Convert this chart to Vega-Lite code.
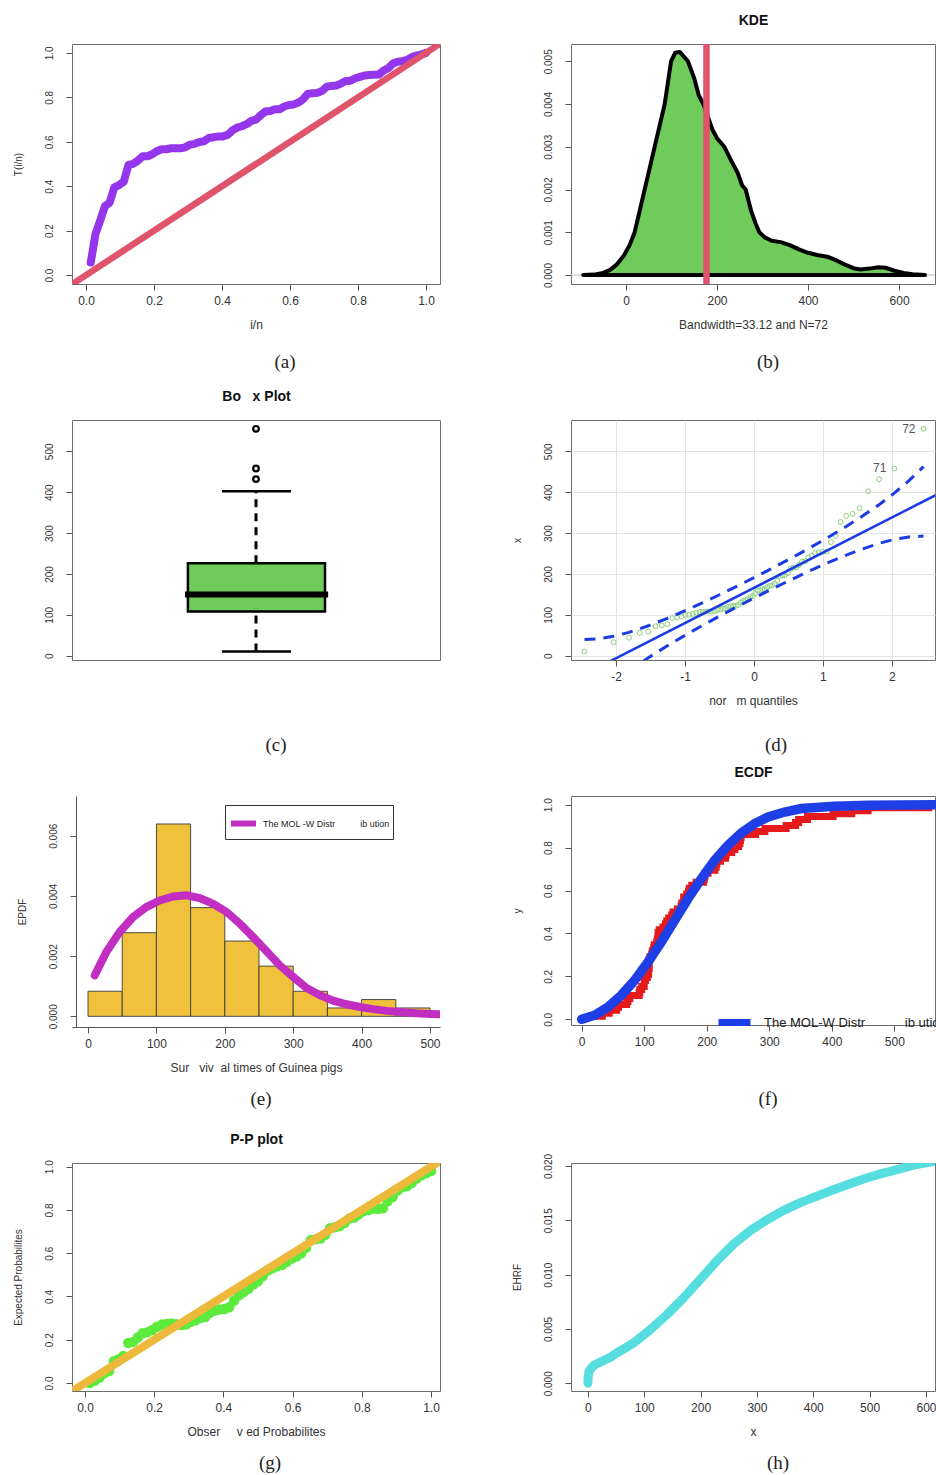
{
"$schema":"https://vega.github.io/schema/vega-lite/v6.json",
"background":"white",
"padding":{"left":12,"top":12,"right":0,"bottom":0},
"datasets":{
"obs":[
{"p":0.0139,"v":10,"z":-2.46,"t":0.0566,"e":0.0},
{"p":0.0278,"v":33,"z":-2.037,"t":0.1848,"e":0.01},
{"p":0.0417,"v":44,"z":-1.815,"t":0.2453,"e":0.025},
{"p":0.0556,"v":56,"z":-1.658,"t":0.3103,"e":0.045},
{"p":0.0694,"v":59,"z":-1.534,"t":0.3263,"e":0.055},
{"p":0.0833,"v":72,"z":-1.43,"t":0.3948,"e":0.10},
{"p":0.0972,"v":74,"z":-1.339,"t":0.4051,"e":0.11},
{"p":0.1111,"v":77,"z":-1.258,"t":0.4204,"e":0.125},
{"p":0.125,"v":92,"z":-1.184,"t":0.4958,"e":0.185},
{"p":0.1389,"v":93,"z":-1.117,"t":0.5008,"e":0.19},
{"p":0.1528,"v":96,"z":-1.055,"t":0.5154,"e":0.21},
{"p":0.1667,"v":100,"z":-0.995,"t":0.5346,"e":0.23},
{"p":0.1806,"v":100,"z":-0.94,"t":0.5346,"e":0.235},
{"p":0.1944,"v":102,"z":-0.887,"t":0.5438,"e":0.245},
{"p":0.2083,"v":105,"z":-0.837,"t":0.5575,"e":0.26},
{"p":0.2222,"v":107,"z":-0.788,"t":0.5664,"e":0.27},
{"p":0.2361,"v":107,"z":-0.742,"t":0.5664,"e":0.273},
{"p":0.25,"v":108,"z":-0.697,"t":0.5708,"e":0.275},
{"p":0.2639,"v":108,"z":-0.653,"t":0.5708,"e":0.272},
{"p":0.2778,"v":108,"z":-0.611,"t":0.5708,"e":0.268},
{"p":0.2917,"v":109,"z":-0.569,"t":0.5749,"e":0.27},
{"p":0.3056,"v":112,"z":-0.528,"t":0.5869,"e":0.283},
{"p":0.3194,"v":113,"z":-0.489,"t":0.5908,"e":0.29},
{"p":0.3333,"v":115,"z":-0.45,"t":0.5985,"e":0.3},
{"p":0.3472,"v":116,"z":-0.411,"t":0.6023,"e":0.305},
{"p":0.3611,"v":120,"z":-0.374,"t":0.617,"e":0.325},
{"p":0.375,"v":121,"z":-0.337,"t":0.6206,"e":0.335},
{"p":0.3889,"v":122,"z":-0.3,"t":0.6242,"e":0.34},
{"p":0.4028,"v":122,"z":-0.264,"t":0.6242,"e":0.342},
{"p":0.4167,"v":124,"z":-0.228,"t":0.6309,"e":0.35},
{"p":0.4306,"v":130,"z":-0.192,"t":0.6507,"e":0.38},
{"p":0.4444,"v":134,"z":-0.157,"t":0.6636,"e":0.405},
{"p":0.4583,"v":136,"z":-0.122,"t":0.6699,"e":0.42},
{"p":0.4722,"v":139,"z":-0.087,"t":0.6791,"e":0.435},
{"p":0.4861,"v":144,"z":-0.052,"t":0.694,"e":0.455},
{"p":0.5,"v":146,"z":-0.017,"t":0.6998,"e":0.47},
{"p":0.5139,"v":153,"z":0.017,"t":0.7196,"e":0.495},
{"p":0.5278,"v":159,"z":0.052,"t":0.7361,"e":0.52},
{"p":0.5417,"v":160,"z":0.087,"t":0.7388,"e":0.53},
{"p":0.5556,"v":163,"z":0.122,"t":0.7465,"e":0.54},
{"p":0.5694,"v":163,"z":0.157,"t":0.7465,"e":0.545},
{"p":0.5833,"v":168,"z":0.192,"t":0.7587,"e":0.56},
{"p":0.5972,"v":171,"z":0.228,"t":0.7658,"e":0.575},
{"p":0.6111,"v":172,"z":0.264,"t":0.7681,"e":0.585},
{"p":0.625,"v":176,"z":0.3,"t":0.7769,"e":0.6},
{"p":0.6389,"v":183,"z":0.337,"t":0.7917,"e":0.625},
{"p":0.6528,"v":195,"z":0.374,"t":0.8162,"e":0.66},
{"p":0.6667,"v":196,"z":0.411,"t":0.8182,"e":0.665},
{"p":0.6806,"v":197,"z":0.45,"t":0.8201,"e":0.668},
{"p":0.6944,"v":202,"z":0.489,"t":0.8291,"e":0.685},
{"p":0.7083,"v":213,"z":0.528,"t":0.8481,"e":0.715},
{"p":0.7222,"v":215,"z":0.569,"t":0.8514,"e":0.72},
{"p":0.7361,"v":216,"z":0.611,"t":0.853,"e":0.725},
{"p":0.75,"v":222,"z":0.653,"t":0.8619,"e":0.74},
{"p":0.7639,"v":230,"z":0.697,"t":0.8732,"e":0.76},
{"p":0.7778,"v":231,"z":0.742,"t":0.8746,"e":0.765},
{"p":0.7917,"v":240,"z":0.788,"t":0.8859,"e":0.78},
{"p":0.8056,"v":245,"z":0.837,"t":0.8918,"e":0.795},
{"p":0.8194,"v":251,"z":0.887,"t":0.8984,"e":0.8},
{"p":0.8333,"v":253,"z":0.94,"t":0.9004,"e":0.805},
{"p":0.8472,"v":254,"z":0.995,"t":0.9014,"e":0.805},
{"p":0.8611,"v":255,"z":1.055,"t":0.9022,"e":0.808},
{"p":0.875,"v":278,"z":1.117,"t":0.9203,"e":0.84},
{"p":0.8889,"v":293,"z":1.184,"t":0.9309,"e":0.86},
{"p":0.9028,"v":327,"z":1.258,"t":0.9522,"e":0.89},
{"p":0.9167,"v":342,"z":1.339,"t":0.9605,"e":0.905},
{"p":0.9306,"v":347,"z":1.43,"t":0.9628,"e":0.91},
{"p":0.9444,"v":361,"z":1.534,"t":0.9683,"e":0.925},
{"p":0.9583,"v":402,"z":1.658,"t":0.9812,"e":0.945},
{"p":0.9722,"v":432,"z":1.815,"t":0.9883,"e":0.96},
{"p":0.9861,"v":458,"z":2.037,"t":0.9924,"e":0.97},
{"p":1.0,"v":555,"z":2.46,"t":1.0,"e":0.98}
],
"kde":[
{"x":-94,"d":0},{"x":-70,"d":0.00001},{"x":-50,"d":0.00005},{"x":-35,"d":0.00012},{"x":-20,"d":0.00025},{"x":-5,"d":0.00045},{"x":8,"d":0.0007},{"x":19,"d":0.001},{"x":30,"d":0.0015},{"x":41,"d":0.002},{"x":52,"d":0.0025},{"x":63,"d":0.003},{"x":74,"d":0.0035},{"x":85,"d":0.004},{"x":92,"d":0.0045},{"x":99,"d":0.005},{"x":108,"d":0.0052},{"x":118,"d":0.00522},{"x":128,"d":0.0051},{"x":136,"d":0.005},{"x":150,"d":0.0046},{"x":160,"d":0.0042},{"x":170,"d":0.004},{"x":180,"d":0.0037},{"x":190,"d":0.0034},{"x":200,"d":0.0032},{"x":216,"d":0.003},{"x":230,"d":0.0027},{"x":245,"d":0.0024},{"x":255,"d":0.0021},{"x":263,"d":0.002},{"x":275,"d":0.0015},{"x":285,"d":0.0012},{"x":293,"d":0.001},{"x":305,"d":0.00088},{"x":320,"d":0.0008},{"x":340,"d":0.00077},{"x":360,"d":0.0007},{"x":380,"d":0.0006},{"x":400,"d":0.00052},{"x":420,"d":0.00047},{"x":445,"d":0.00042},{"x":465,"d":0.00033},{"x":480,"d":0.00025},{"x":500,"d":0.00016},{"x":515,"d":0.00013},{"x":535,"d":0.00015},{"x":555,"d":0.00018},{"x":570,"d":0.00017},{"x":590,"d":0.0001},{"x":610,"d":0.00005},{"x":630,"d":0.00002},{"x":657,"d":0}
],
"band":[
{"z":-2.46,"up":39.4,"lo":-130.6},{"z":-2.25,"up":41.4,"lo":-96.4},{"z":-2.04,"up":47.4,"lo":-66.2},{"z":-1.815,"up":57.1,"lo":-37.3},{"z":-1.534,"up":73.2,"lo":-5.0},{"z":-1.258,"up":91.4,"lo":24.2},{"z":-1.0,"up":110,"lo":50},{"z":-0.75,"up":129.1,"lo":73.9},{"z":-0.5,"up":149.1,"lo":96.9},{"z":-0.25,"up":169.7,"lo":119.3},{"z":0,"up":190.9,"lo":141.1},{"z":0.25,"up":212.7,"lo":162.3},{"z":0.5,"up":235.1,"lo":182.9},{"z":0.75,"up":258.1,"lo":202.9},{"z":1.0,"up":282,"lo":222},{"z":1.258,"up":307.8,"lo":240.6},{"z":1.534,"up":337,"lo":258.8},{"z":1.815,"up":369.3,"lo":274.9},{"z":2.04,"up":398.2,"lo":284.6},{"z":2.25,"up":428.4,"lo":290.6},{"z":2.46,"up":462.6,"lo":292.6}
],
"hist":[
{"b0":0,"b1":50,"d":0.000833},{"b0":50,"b1":100,"d":0.002778},{"b0":100,"b1":150,"d":0.006389},{"b0":150,"b1":200,"d":0.003611},{"b0":200,"b1":250,"d":0.0025},{"b0":250,"b1":300,"d":0.001667},{"b0":300,"b1":350,"d":0.000833},{"b0":350,"b1":400,"d":0.000278},{"b0":400,"b1":450,"d":0.000556},{"b0":450,"b1":500,"d":0.000278}
],
"pdf":[
{"x":9.8,"d":0.00136},{"x":26.8,"d":0.00214},{"x":46.3,"d":0.0028},{"x":65.9,"d":0.0033},{"x":85.4,"d":0.00363},{"x":104.9,"d":0.00385},{"x":124.4,"d":0.00398},{"x":143.9,"d":0.00402},{"x":163.4,"d":0.00393},{"x":183,"d":0.00374},{"x":202.4,"d":0.00347},{"x":222,"d":0.00308},{"x":241.5,"d":0.00263},{"x":261,"d":0.00216},{"x":280.5,"d":0.00169},{"x":300,"d":0.00131},{"x":319.5,"d":0.00094},{"x":339,"d":0.0007},{"x":358.5,"d":0.00052},{"x":378,"d":0.0004},{"x":397.6,"d":0.00031},{"x":417,"d":0.00024},{"x":436.6,"d":0.00018},{"x":456,"d":0.00014},{"x":480,"d":0.0001},{"x":500,"d":0.00008},{"x":520,"d":0.00007}
],
"cdf":[
{"x":0,"F":0},{"x":20.8,"F":0.019},{"x":42,"F":0.057},{"x":63.4,"F":0.112},{"x":84.8,"F":0.182},{"x":106,"F":0.267},{"x":127.4,"F":0.36},{"x":148.7,"F":0.461},{"x":170,"F":0.562},{"x":191.4,"F":0.655},{"x":212.7,"F":0.741},{"x":234,"F":0.811},{"x":255.3,"F":0.868},{"x":276.7,"F":0.912},{"x":298,"F":0.943},{"x":324.6,"F":0.966},{"x":351.3,"F":0.982},{"x":404.6,"F":0.993},{"x":458,"F":0.997},{"x":565,"F":1.0}
],
"ehrf":[
{"x":0,"h":0},{"x":0.5,"h":0.0006},{"x":2,"h":0.0011},{"x":6,"h":0.0014},{"x":12,"h":0.0017},{"x":24,"h":0.002},{"x":40,"h":0.0024},{"x":53.4,"h":0.00285},{"x":82.7,"h":0.00377},{"x":112,"h":0.005},{"x":141.3,"h":0.00638},{"x":170.7,"h":0.00791},{"x":200,"h":0.0096},{"x":229.3,"h":0.01129},{"x":258.7,"h":0.01282},{"x":288,"h":0.01405},{"x":317.3,"h":0.01503},{"x":346.6,"h":0.01589},{"x":376,"h":0.0166},{"x":405.3,"h":0.01721},{"x":434.6,"h":0.01779},{"x":464,"h":0.01834},{"x":493.3,"h":0.01887},{"x":522.6,"h":0.01933},{"x":552,"h":0.01972},{"x":580,"h":0.0201},{"x":616,"h":0.02045}
]
},
"config":{
"font":"Liberation Sans",
"view":{"stroke":"#6e6e6e","strokeWidth":1},
"axis":{"grid":false,"domain":false,"tickColor":"#555","tickSize":6,"tickWidth":1,"labelFont":"Liberation Sans","labelColor":"#333","titleFont":"Liberation Sans","titleFontWeight":"normal","titleColor":"#333"},
"axisX":{"labelFontSize":12,"labelPadding":5,"titleFontSize":12,"titlePadding":13,"labelAngle":0},
"axisY":{"labelFontSize":10,"labelAngle":-90,"labelAlign":"center","labelBaseline":"bottom","labelPadding":12,"titleFontSize":10,"titlePadding":21},
"title":{"font":"Liberation Serif","fontSize":19,"fontWeight":"normal","color":"#222","orient":"bottom","anchor":"middle","frame":"group"},
"legend":{"title":null}
},
"columns":2,
"align":"each",
"bounds":"flush",
"spacing":{"row":136,"column":131},
"resolve":{"scale":{"color":"independent"},"legend":{"color":"independent"}},
"concat":[
{
"width":368,"height":240,
"title":{"text":"(a)","offset":23,"dx":29},
"layer":[
{"data":{"name":"obs"},"mark":{"type":"line","color":"#9436EC","strokeWidth":8,"strokeCap":"round","strokeJoin":"round"},
"encoding":{"x":{"field":"p","type":"quantitative","scale":{"domain":[-0.0412,1.0412],"nice":false,"zero":false},"axis":{"values":[0,0.2,0.4,0.6,0.8,1],"format":".1f","title":"i/n"}},
"y":{"field":"t","type":"quantitative","scale":{"domain":[-0.04,1.04],"nice":false,"zero":false},"axis":{"values":[0,0.2,0.4,0.6,0.8,1],"format":".1f","title":"T(i/n)"}}}},
{"data":{"values":[{"p":-0.1,"t":-0.1},{"p":1.1,"t":1.1}]},"mark":{"type":"line","color":"#DF536B","strokeWidth":6.5,"clip":true},
"encoding":{"x":{"field":"p","type":"quantitative"},"y":{"field":"t","type":"quantitative"}}}
]
},
{
"width":364,"height":240,
"title":{"text":"(b)","offset":23,"dx":15},
"resolve":{"axis":{"x":"independent"}},
"layer":[
{"data":{"values":[{"d":0}]},"mark":{"type":"rule","color":"#bbbbbb","strokeWidth":1},"encoding":{"y":{"field":"d","type":"quantitative","scale":{"domain":[-0.00021,0.005405],"nice":false,"zero":false},"axis":{"values":[0,0.001,0.002,0.003,0.004,0.005],"format":".3f","title":null}}}},
{"data":{"name":"kde"},"mark":{"type":"area","color":"#6FCB5A","stroke":"#000","strokeWidth":4,"strokeJoin":"round"},
"encoding":{"x":{"field":"x","type":"quantitative","scale":{"domain":[-120.9,679],"nice":false,"zero":false},"axis":{"values":[0,200,400,600],"title":"Bandwidth=33.12 and N=72"}},
"y":{"field":"d","type":"quantitative"},"y2":{"datum":0}}},
{"data":{"values":[{"x":176.83}]},"mark":{"type":"rule","color":"#DF536B","strokeWidth":6.5},
"encoding":{"x":{"field":"x","type":"quantitative","axis":{"orient":"top","title":"KDE","labels":false,"ticks":false,"domain":false,"titleFontSize":14,"titleFontWeight":"bold","titleColor":"#111","titlePadding":17}}}}
]
},
{
"width":368,"height":240,
"title":{"text":"(c)","offset":76,"dx":20},
"resolve":{"axis":{"x":"independent"}},
"layer":[
{"data":{"values":[{"x":0.5,"a":226,"b":402},{"x":0.5,"a":10,"b":108}]},"mark":{"type":"rule","strokeWidth":3,"strokeDash":[8,6],"color":"#000"},
"encoding":{"x":{"field":"x","type":"quantitative","scale":{"domain":[0,1],"nice":false,"zero":false},"axis":null},
"y":{"field":"a","type":"quantitative","scale":{"domain":[-10.5,576.6],"nice":false,"zero":false},"axis":{"values":[0,100,200,300,400,500],"title":null}},"y2":{"field":"b"}}},
{"data":{"values":[{"x":0.4076,"x2":0.595,"y":402},{"x":0.4076,"x2":0.595,"y":10}]},"mark":{"type":"rule","strokeWidth":2.5,"color":"#000"},
"encoding":{"x":{"field":"x","type":"quantitative","axis":null},"x2":{"field":"x2"},"y":{"field":"y","type":"quantitative"}}},
{"data":{"values":[{"x":0.315,"x2":0.6875,"q1":108,"q3":226}]},"mark":{"type":"rect","fill":"#6FCB5A","stroke":"#000","strokeWidth":2.5},
"encoding":{"x":{"field":"x","type":"quantitative","axis":null},"x2":{"field":"x2"},"y":{"field":"q1","type":"quantitative"},"y2":{"field":"q3"}}},
{"data":{"values":[{"x":0.307,"x2":0.696,"m":149.5}]},"mark":{"type":"rule","strokeWidth":6,"color":"#000"},
"encoding":{"x":{"field":"x","type":"quantitative","axis":null},"x2":{"field":"x2"},"y":{"field":"m","type":"quantitative"}}},
{"data":{"values":[{"x":0.5,"v":432},{"x":0.5,"v":458},{"x":0.5,"v":555}]},"mark":{"type":"point","shape":"circle","filled":false,"color":"#000","strokeWidth":2.2,"size":32,"opacity":1},
"encoding":{"x":{"field":"x","type":"quantitative","axis":{"orient":"top","title":"Bo\u00a0\u00a0\u00a0x Plot","labels":false,"ticks":false,"domain":false,"titleFontSize":14,"titleFontWeight":"bold","titleColor":"#111","titlePadding":17}},"y":{"field":"v","type":"quantitative"}}}
]
},
{
"width":364,"height":240,
"title":{"text":"(d)","offset":30,"dx":23},
"layer":[
{"data":{"name":"obs"},"mark":{"type":"point","shape":"circle","filled":false,"color":"#8CCF7C","strokeWidth":1,"size":24,"opacity":1},
"encoding":{"x":{"field":"z","type":"quantitative","scale":{"domain":[-2.656,2.627],"nice":false,"zero":false},"axis":{"values":[-2,-1,0,1,2],"labelExpr":"'' + datum.value","grid":true,"gridColor":"#e3e3e3","title":"nor\u00a0\u00a0\u00a0m quantiles"}},
"y":{"field":"v","type":"quantitative","scale":{"domain":[-10.5,576.6],"nice":false,"zero":false},"axis":{"values":[0,100,200,300,400,500],"grid":true,"gridColor":"#e3e3e3","title":"x"}}}},
{"data":{"values":[{"z":-2.7,"f":-66.2},{"z":2.7,"f":398.2}]},"mark":{"type":"line","color":"#1B3CE4","strokeWidth":2.5,"clip":true},
"encoding":{"x":{"field":"z","type":"quantitative"},"y":{"field":"f","type":"quantitative"}}},
{"data":{"name":"band"},"mark":{"type":"line","color":"#1B3CE4","strokeWidth":3,"strokeDash":[11,8],"clip":true},
"encoding":{"x":{"field":"z","type":"quantitative"},"y":{"field":"up","type":"quantitative"}}},
{"data":{"name":"band"},"mark":{"type":"line","color":"#1B3CE4","strokeWidth":3,"strokeDash":[11,8],"clip":true},
"encoding":{"x":{"field":"z","type":"quantitative"},"y":{"field":"lo","type":"quantitative"}}},
{"data":{"values":[{"z":2.46,"v":555,"lab":"72"},{"z":2.037,"v":458,"lab":"71"}]},"mark":{"type":"text","align":"right","dx":-8,"fontSize":12,"color":"#555"},
"encoding":{"x":{"field":"z","type":"quantitative"},"y":{"field":"v","type":"quantitative"},"text":{"field":"lab"}}}
]
},
{
"width":368,"height":231,
"view":{"stroke":null},
"title":{"text":"(e)","offset":17,"dx":5},
"layer":[
{"data":{"name":"hist"},"mark":{"type":"rect","fill":"#F0C23C","stroke":"#3a3a3a","strokeWidth":0.9},
"encoding":{"x":{"field":"b0","type":"quantitative","scale":{"domain":[-23.4,514.6],"nice":false,"zero":false},"axis":{"values":[0,100,200,300,400,500],"domain":true,"domainColor":"#555","title":"Sur\u00a0\u00a0\u00a0viv\u00a0 al times of Guinea pigs"}},"x2":{"field":"b1"},
"y":{"field":"d","type":"quantitative","scale":{"domain":[-0.000355,0.007319],"nice":false,"zero":false},"axis":{"values":[0,0.001,0.002,0.003,0.004,0.005,0.006,0.007],"labelExpr":"round(datum.value*1000) % 2 == 0 ? format(datum.value, '.3f') : ''","domain":true,"domainColor":"#555","title":"EPDF","offset":-4}},"y2":{"datum":0}}},
{"data":{"name":"pdf"},"mark":{"type":"line","strokeWidth":8,"strokeCap":"round","clip":true},
"encoding":{"x":{"field":"x","type":"quantitative"},"y":{"field":"d","type":"quantitative"},
"color":{"datum":"The MOL -W Distr\u00a0\u00a0\u00a0\u00a0\u00a0\u00a0\u00a0\u00a0\u00a0\u00a0ib ution","type":"nominal","scale":{"range":["#C22DC2"]},
"legend":{"orient":"none","legendX":153,"legendY":9,"strokeColor":"#333","fillColor":"white","padding":3,"symbolType":"stroke","symbolSize":625,"symbolStrokeWidth":6,"labelFontSize":9,"labelColor":"#222","labelLimit":400,"title":null}}}}
]
},
{
"width":364,"height":229,
"title":{"text":"(f)","offset":43,"dx":15},
"resolve":{"axis":{"x":"independent"}},
"layer":[
{"data":{"name":"obs"},"mark":{"type":"line","interpolate":"step-after","color":"#E41A1C","strokeWidth":7},
"encoding":{"x":{"field":"v","type":"quantitative","scale":{"domain":[-17.1,565],"nice":false,"zero":false},"axis":{"values":[0,100,200,300,400,500],"title":null}},
"y":{"field":"p","type":"quantitative","scale":{"domain":[-0.0266,1.0405],"nice":false,"zero":false},"axis":{"values":[0,0.2,0.4,0.6,0.8,1],"format":".1f","title":"y"}}}},
{"data":{"name":"cdf"},"mark":{"type":"line","strokeWidth":9.5,"strokeCap":"round"},
"encoding":{"x":{"field":"x","type":"quantitative","axis":{"orient":"top","title":"ECDF","labels":false,"ticks":false,"domain":false,"titleFontSize":14,"titleFontWeight":"bold","titleColor":"#111","titlePadding":17}},
"y":{"field":"F","type":"quantitative"},
"color":{"datum":"The MOL-W Distr\u00a0\u00a0\u00a0\u00a0\u00a0\u00a0\u00a0\u00a0\u00a0\u00a0\u00a0ib utio","type":"nominal","scale":{"range":["#1E3FE6"]},
"legend":{"orient":"none","legendX":144,"legendY":207,"padding":0,"symbolType":"stroke","symbolSize":1024,"symbolStrokeWidth":7,"labelOffset":10,"labelFontSize":13,"labelColor":"#222","labelLimit":400,"title":null}}}}
]
},
{
"width":368,"height":228,
"title":{"text":"(g)","offset":17,"dx":14},
"resolve":{"axis":{"x":"independent"}},
"layer":[
{"data":{"name":"obs"},"mark":{"type":"circle","color":"#5CEB3C","opacity":1,"size":110},
"encoding":{"x":{"field":"p","type":"quantitative","scale":{"domain":[-0.0376,1.026],"nice":false,"zero":false},"axis":{"values":[0,0.2,0.4,0.6,0.8,1],"format":".1f","title":"Obser\u00a0\u00a0\u00a0\u00a0 v ed Probabilites"}},
"y":{"field":"e","type":"quantitative","scale":{"domain":[-0.037,1.017],"nice":false,"zero":false},"axis":{"values":[0,0.2,0.4,0.6,0.8,1],"format":".1f","title":"Expected Probabilites"}}}},
{"data":{"values":[{"p":-0.1,"e":-0.1},{"p":1.1,"e":1.1}]},"mark":{"type":"line","color":"#EDB93A","strokeWidth":8,"clip":true},
"encoding":{"x":{"field":"p","type":"quantitative","axis":{"orient":"top","title":"P-P plot","labels":false,"ticks":false,"domain":false,"titleFontSize":14,"titleFontWeight":"bold","titleColor":"#111","titlePadding":17}},"y":{"field":"e","type":"quantitative"}}}
]
},
{
"width":364,"height":228,
"title":{"text":"(h)","offset":17,"dx":25},
"layer":[
{"data":{"name":"ehrf"},"mark":{"type":"line","color":"#56DDE0","strokeWidth":9,"strokeCap":"round","strokeJoin":"round","clip":true},
"encoding":{"x":{"field":"x","type":"quantitative","scale":{"domain":[-30,616],"nice":false,"zero":false},"axis":{"values":[0,100,200,300,400,500,600],"title":"x"}},
"y":{"field":"h","type":"quantitative","scale":{"domain":[-0.00071,0.020276],"nice":false,"zero":false},"axis":{"values":[0,0.005,0.01,0.015,0.02],"format":".3f","title":"EHRF"}}}}
]
}
]
}
